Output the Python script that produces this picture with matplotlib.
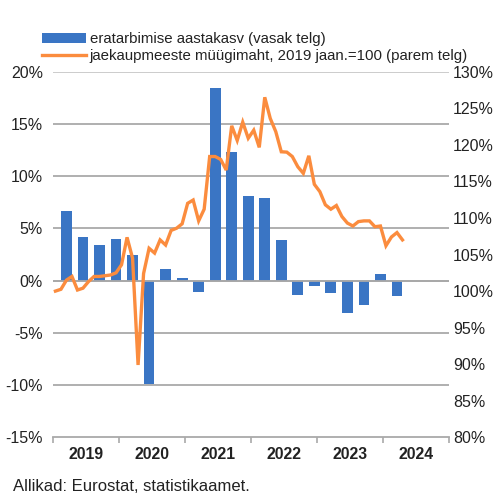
import matplotlib
matplotlib.use("Agg")
import matplotlib.pyplot as plt
import numpy as np

plt.rcParams['font.family'] = ['Liberation Sans', 'DejaVu Sans']

# Quarterly private consumption growth, % (2019Q1 .. 2024Q1)
quarters = ["2019Q1", "2019Q2", "2019Q3", "2019Q4",
            "2020Q1", "2020Q2", "2020Q3", "2020Q4",
            "2021Q1", "2021Q2", "2021Q3", "2021Q4",
            "2022Q1", "2022Q2", "2022Q3", "2022Q4",
            "2023Q1", "2023Q2", "2023Q3", "2023Q4",
            "2024Q1"]
consumption_growth = [6.7, 4.2, 3.4, 4.0,
                      2.5, -9.85, 1.1, 0.25,
                      -1.05, 18.45, 12.3, 8.1,
                      7.9, 3.9, -1.35, -0.5,
                      -1.15, -3.05, -2.3, 0.65,
                      -1.45]

# Monthly retail sales volume, Jan 2019 = 100 (Jan 2019 .. Apr 2024)
retail_index = [100.0, 100.25, 101.5, 102.0, 100.15, 100.4, 101.3, 102.0, 102.0, 102.1, 102.2, 102.5,
                103.6, 107.35, 104.5, 89.9, 102.4, 105.85, 105.2, 107.0, 106.3, 108.3, 108.6, 109.2,
                112.0, 112.45, 109.6, 111.2, 118.4, 118.4, 118.0, 116.55, 122.6, 120.6, 123.1, 120.9,
                122.0, 119.65, 126.5, 123.6, 121.8, 119.05, 119.0, 118.4, 117.0, 116.1, 118.5, 114.6,
                113.6, 111.8, 111.2, 111.7, 110.2, 109.3, 108.9, 109.5, 109.6, 109.6, 108.8, 108.9,
                106.2, 107.4, 108.0, 107.0]

years = ["2019", "2020", "2021", "2022", "2023", "2024"]
left_ticks = [20, 15, 10, 5, 0, -5, -10, -15]
right_ticks = [130, 125, 120, 115, 110, 105, 100, 95, 90, 85, 80]

blue = "#3a75c4"
orange = "#fb8c3e"
grid_c = "#a9a9a9"
text_c = "#222222"

fig = plt.figure(figsize=(4.98, 4.95), dpi=100)
ax = fig.add_axes([0.1058, 0.1164, 0.7964, 0.7388])
ax2 = ax.twinx()

bar_x = np.arange(len(quarters)) * 3 + 2.5
line_x = np.arange(len(retail_index)) + 0.5

ax.set_xlim(0, 72)
ax.set_ylim(-15, 20)
ax2.set_ylim(80, 130)

# gridlines
for t in left_ticks[:-1]:
    ax.axhline(t, color=("#c8c8c8" if t == 20 else grid_c), lw=1.3, zorder=0.5)

b = ax.bar(bar_x, consumption_growth, width=1.95, color=blue, zorder=2,
           label="eratarbimise aastakasv (vasak telg)")
ax.axhline(0, color=grid_c, lw=1.3, zorder=3)

ln, = ax2.plot(line_x, retail_index, color=orange, lw=2.4, zorder=4,
               solid_joinstyle='miter',
               label="jaekaupmeeste müügimaht, 2019 jaan.=100 (parem telg)")
ax2.patch.set_visible(False)

for a in (ax, ax2):
    for s in ("top", "left", "right"):
        a.spines[s].set_visible(False)
ax2.spines["bottom"].set_visible(False)
ax.spines["bottom"].set_color(grid_c)
ax.spines["bottom"].set_linewidth(1.3)

ax.set_yticks(left_ticks)
ax.set_yticklabels([f"{t}%" for t in left_ticks], fontsize=11.5, color=text_c)
ax.tick_params(axis='y', length=0, pad=7)
ax2.set_yticks(right_ticks)
ax2.set_yticklabels([f"{t}%" for t in right_ticks], fontsize=11.5, color=text_c)
ax2.tick_params(axis='y', length=0, pad=2.5)

ax.set_xticks(np.arange(0, 73, 12), minor=True)
ax.set_xticks(np.arange(6, 72, 12))
ax.set_xticklabels(years, fontsize=11.3, fontweight='bold', color=text_c)
ax.tick_params(axis='x', which='major', length=0, pad=7)
ax.tick_params(axis='x', which='minor', length=4, width=1.2, color=grid_c, direction='out')

leg = fig.legend(handles=[b, ln], loc='upper left', bbox_to_anchor=(0.085, 0.935),
                 frameon=False, fontsize=10.8, handlelength=2.9, handleheight=0.7,
                 handletextpad=0.25, labelspacing=0.22, borderaxespad=0, borderpad=0)
for t in leg.get_texts():
    t.set_color(text_c)

fig.text(0.026, 0.018, "Allikad: Eurostat, statistikaamet.", fontsize=12, color=text_c,
         ha='left', va='center')

fig.savefig("out.png", dpi=100)
